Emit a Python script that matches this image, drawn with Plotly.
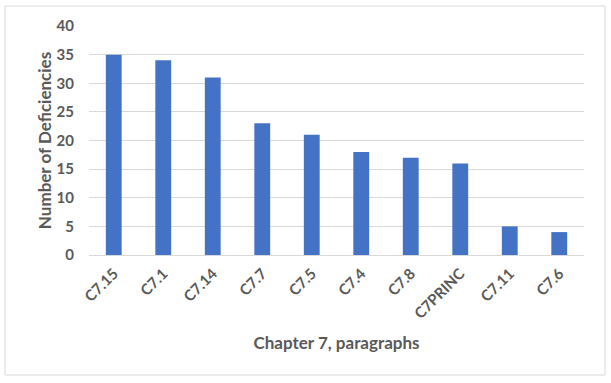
import plotly.graph_objects as go

categories = ["C7.15", "C7.1", "C7.14", "C7.7", "C7.5", "C7.4", "C7.8", "C7PRINC", "C7.11", "C7.6"]
deficiencies = [35, 34, 31, 23, 21, 18, 17, 16, 5, 4]
y_ticks = [0, 5, 10, 15, 20, 25, 30, 35, 40]

TXT = "#595959"
FONT = "Lato"

W, H = 611, 383
L, R, T, B = 89, 27, 26, 128
pw, ph = W - L - R, H - T - B

fig = go.Figure(go.Bar(
    x=categories, y=deficiencies,
    marker=dict(color="#4472C4", line=dict(width=0)),
    width=0.32,
))

fig.update_layout(
    width=W, height=H,
    margin=dict(l=L, r=R, t=T, b=B, autoexpand=False),
    paper_bgcolor="white", plot_bgcolor="white",
    showlegend=False,
    font=dict(family=FONT, color=TXT, size=13),
    bargap=0.68,
)
fig.update_xaxes(
    tickangle=-45,
    tickfont=dict(family=FONT, size=15, color=TXT, weight="bold"),
    showline=False, showgrid=False, ticks="", automargin=False,
    ticklabelstandoff=6,
    title=dict(text="Chapter 7, paragraphs", font=dict(family=FONT, size=17, color=TXT, weight="bold"), standoff=16),
)
fig.update_yaxes(
    range=[0, 40], tickvals=y_ticks,
    tickfont=dict(family=FONT, size=15, color=TXT, weight="bold"),
    showgrid=True, gridcolor="#D9D9D9", gridwidth=1,
    zeroline=True, zerolinecolor="#D9D9D9", zerolinewidth=1,
    showline=False, ticks="", automargin=False, ticklabelstandoff=14,
    title=dict(text="Number of Deficiencies", font=dict(family=FONT, size=17, color=TXT, weight="bold"), standoff=0),
)

# outer chart border
fig.add_shape(
    type="rect", xref="paper", yref="paper",
    x0=(5 - L) / pw, x1=(605 - L) / pw,
    y0=(H - B - 375) / ph, y1=(H - B - 6) / ph,
    line=dict(color="#D9D9D9", width=1), fillcolor="rgba(0,0,0,0)", layer="below",
)

fig.write_html("out.html")
